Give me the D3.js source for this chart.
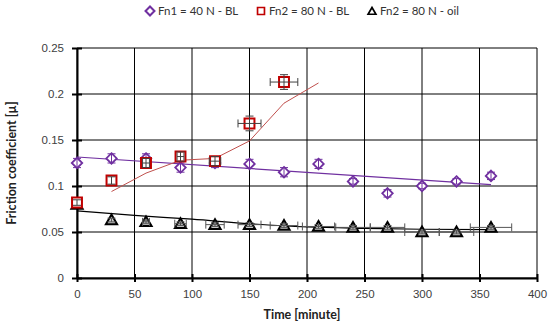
<!DOCTYPE html>
<html>
<head>
<meta charset="utf-8">
<script src="https://cdn.jsdelivr.net/npm/d3@7"></script>
<style>
  body { margin: 0; background: #fff; }
  svg { font-family: Lato, "Open Sans", sans-serif; }
</style>
</head>
<body>
<script>
// time axis, minutes
var times = [0, 30, 60, 90, 120, 150, 180, 210, 240, 270, 300, 330, 360];

// Fn1 = 40 N - BL (purple diamonds)
var fn1Values = [0.125, 0.130, 0.130, 0.120, 0.125, 0.124, 0.115, 0.124, 0.105, 0.092, 0.100, 0.105, 0.111];
var fn1Err = [0.005, 0.005, 0.005, 0.005, 0.005, 0.005, 0.005, 0.005, 0.003, 0.004, 0.003, 0.003, 0.004];
var fn1Trend = [[0, 0.1315], [360, 0.1015]];

// Fn2 = 80 N - BL (red squares)
var fn2Times = [0, 30, 60, 90, 120, 150, 180];
var fn2Values = [0.082, 0.106, 0.125, 0.132, 0.127, 0.168, 0.213];
var fn2Err = [0.003, 0.004, 0.005, 0.005, 0.005, 0.008, 0.008];
var fn2TimeErr = [0, 0, 3, 3, 5, 10, 12];
var fn2Trend = [[30, 0.094], [60, 0.114], [90, 0.128], [120, 0.130], [150, 0.149], [180, 0.190], [210, 0.212]];

// Fn2 = 80 N - oil (black triangles)
var oilValues = [0.080, 0.063, 0.061, 0.059, 0.058, 0.058, 0.057, 0.056, 0.055, 0.055, 0.050, 0.050, 0.055];
var oilTimeErr = [0, 0, 3, 5, 8, 10, 12, 14, 15, 15, 15, 15, 18];
var oilTrend = [[0, 0.073], [50, 0.068], [100, 0.064], [150, 0.059], [200, 0.0555], [250, 0.054], [300, 0.053], [360, 0.0525]];

var xTicks = [0, 50, 100, 150, 200, 250, 300, 350, 400];
var yTicks = [0, 0.05, 0.1, 0.15, 0.2, 0.25];

var W = 550, H = 330;
var margin = { top: 48, right: 13, bottom: 52, left: 77 };
var width = W - margin.left - margin.right,
    height = H - margin.top - margin.bottom;

var purple = "#7030a0", red = "#c00000";

var svg = d3.select("body").append("svg")
    .attr("width", W)
    .attr("height", H);

var g = svg.append("g")
    .attr("transform", "translate(" + margin.left + "," + margin.top + ")");

var x = d3.scaleLinear().domain([0, 400]).range([0, width]);
var y = d3.scaleLinear().domain([0, 0.25]).range([height, 0]);

// gridlines
g.append("g").selectAll("line.h").data(yTicks).enter().append("line")
    .attr("x1", 0).attr("x2", width)
    .attr("y1", function (d) { return y(d); }).attr("y2", function (d) { return y(d); })
    .attr("stroke", "#000").attr("stroke-width", 1);
g.append("g").selectAll("line.v").data(xTicks).enter().append("line")
    .attr("y1", 0).attr("y2", height)
    .attr("x1", function (d) { return x(d); }).attr("x2", function (d) { return x(d); })
    .attr("stroke", "#000").attr("stroke-width", 1);

// axes, ticks cross the line like Excel
var xAxis = g.append("g")
    .attr("transform", "translate(0," + height + ")")
    .call(d3.axisBottom(x).tickValues(xTicks).tickSizeInner(4).tickSizeOuter(0).tickPadding(8));
xAxis.selectAll(".tick line").attr("y1", -4).attr("stroke-width", 2);
xAxis.select(".domain").attr("stroke-width", 2);

var yAxis = g.append("g")
    .call(d3.axisLeft(y).tickValues(yTicks).tickSizeInner(5).tickSizeOuter(0).tickPadding(8)
        .tickFormat(function (d) { return String(+d.toFixed(2)); }));
yAxis.selectAll(".tick line").attr("x1", 5).attr("x2", -5).attr("stroke-width", 2);
yAxis.select(".domain").attr("stroke-width", 2);

svg.selectAll(".tick text").attr("font-size", 11.5).attr("fill", "#404040");

// trend lines
var line = d3.line()
    .x(function (d) { return x(d[0]); })
    .y(function (d) { return y(d[1]); });

g.append("path").datum(fn1Trend).attr("d", line)
    .attr("fill", "none").attr("stroke", purple).attr("stroke-width", 1.2);
g.append("path").datum(oilTrend).attr("d", d3.line().curve(d3.curveMonotoneX)
        .x(function (d) { return x(d[0]); }).y(function (d) { return y(d[1]); }))
    .attr("fill", "none").attr("stroke", "#000").attr("stroke-width", 1.2);
g.append("path").datum(fn2Trend).attr("d", line)
    .attr("fill", "none").attr("stroke", "#c0504d").attr("stroke-width", 1);

function errorBars(sel, data, color) {
    // data: {t, v, dv, dt}
    var eg = sel.append("g").attr("stroke", color).attr("stroke-width", 1);
    data.forEach(function (d) {
        var cx = x(d.t), cy = y(d.v);
        if (d.dv) {
            var y0 = y(d.v - d.dv), y1 = y(d.v + d.dv);
            eg.append("line").attr("x1", cx).attr("x2", cx).attr("y1", y0).attr("y2", y1);
            eg.append("line").attr("x1", cx - 4).attr("x2", cx + 4).attr("y1", y0).attr("y2", y0);
            eg.append("line").attr("x1", cx - 4).attr("x2", cx + 4).attr("y1", y1).attr("y2", y1);
        }
        if (d.dt) {
            var x0 = x(d.t - d.dt), x1 = x(d.t + d.dt);
            eg.append("line").attr("x1", x0).attr("x2", x1).attr("y1", cy).attr("y2", cy);
            eg.append("line").attr("x1", x0).attr("x2", x0).attr("y1", cy - 4).attr("y2", cy + 4);
            eg.append("line").attr("x1", x1).attr("x2", x1).attr("y1", cy - 4).attr("y2", cy + 4);
        }
    });
}

var sym = {
    diamond: d3.symbol().type(d3.symbolDiamond2).size(70),
    square: d3.symbol().type(d3.symbolSquare2).size(125),
    triangle: d3.symbol().type(d3.symbolTriangle2).size(90)
};

// Fn2 oil
var oilData = times.map(function (t, i) { return { t: t, v: oilValues[i], dv: 0.002, dt: oilTimeErr[i] }; });
g.append("g").selectAll("path").data(oilData).enter().append("path")
    .attr("d", sym.triangle)
    .attr("transform", function (d) { return "translate(" + x(d.t) + "," + (y(d.v) + 1) + ")"; })
    .attr("fill", "#c8c8c8").attr("stroke", "#000").attr("stroke-width", 2);
errorBars(g, oilData, "#555");

// Fn1
var fn1Data = times.map(function (t, i) { return { t: t, v: fn1Values[i], dv: fn1Err[i], dt: 0 }; });
g.append("g").selectAll("path").data(fn1Data).enter().append("path")
    .attr("d", sym.diamond)
    .attr("transform", function (d) { return "translate(" + x(d.t) + "," + y(d.v) + ")"; })
    .attr("fill", "#fff").attr("stroke", purple).attr("stroke-width", 1.8);
errorBars(g, fn1Data, purple);

// Fn2 BL
var fn2Data = fn2Times.map(function (t, i) { return { t: t, v: fn2Values[i], dv: fn2Err[i], dt: fn2TimeErr[i] }; });
g.append("g").selectAll("path").data(fn2Data).enter().append("path")
    .attr("d", sym.square)
    .attr("transform", function (d) { return "translate(" + x(d.t) + "," + y(d.v) + ")"; })
    .attr("fill", "#fff").attr("stroke", red).attr("stroke-width", 2);
errorBars(g, fn2Data, "#404040");

// axis titles
svg.append("text")
    .attr("x", margin.left + width / 2 - 5).attr("y", 319)
    .attr("text-anchor", "middle").attr("font-size", 12.5).attr("font-weight", "bold")
    .attr("fill", "#222")
    .text("Time [minute]");
svg.append("text")
    .attr("transform", "translate(16," + (margin.top + height / 2) + ") rotate(-90)")
    .attr("text-anchor", "middle").attr("font-size", 12.5).attr("font-weight", "bold")
    .attr("fill", "#222")
    .text("Friction coefficient [µ]");

// legend
var legendItems = [
    { label: "Fn1 = 40 N - BL", shape: sym.diamond, x: 150, fill: "#fff", stroke: purple },
    { label: "Fn2 = 80 N - BL", shape: sym.square, x: 261, fill: "#fff", stroke: red },
    { label: "Fn2 = 80 N - oil", shape: sym.triangle, x: 372, fill: "#fff", stroke: "#000" }
];
var lg = svg.append("g").selectAll("g").data(legendItems).enter().append("g")
    .attr("transform", function (d) { return "translate(" + d.x + ",11)"; });
lg.append("path")
    .attr("d", function (d) { return d.shape(); })
    .attr("transform", function (d, i) { return i === 1 ? "scale(0.7)" : (i === 2 ? "translate(0,1) scale(0.7)" : "scale(0.85)"); })
    .attr("fill", function (d) { return d.fill; })
    .attr("stroke", function (d) { return d.stroke; })
    .attr("stroke-width", 2.4);
lg.append("text")
    .attr("x", 8).attr("y", 4)
    .attr("font-size", 11.5).attr("fill", "#333")
    .text(function (d) { return d.label; });
</script>
</body>
</html>
